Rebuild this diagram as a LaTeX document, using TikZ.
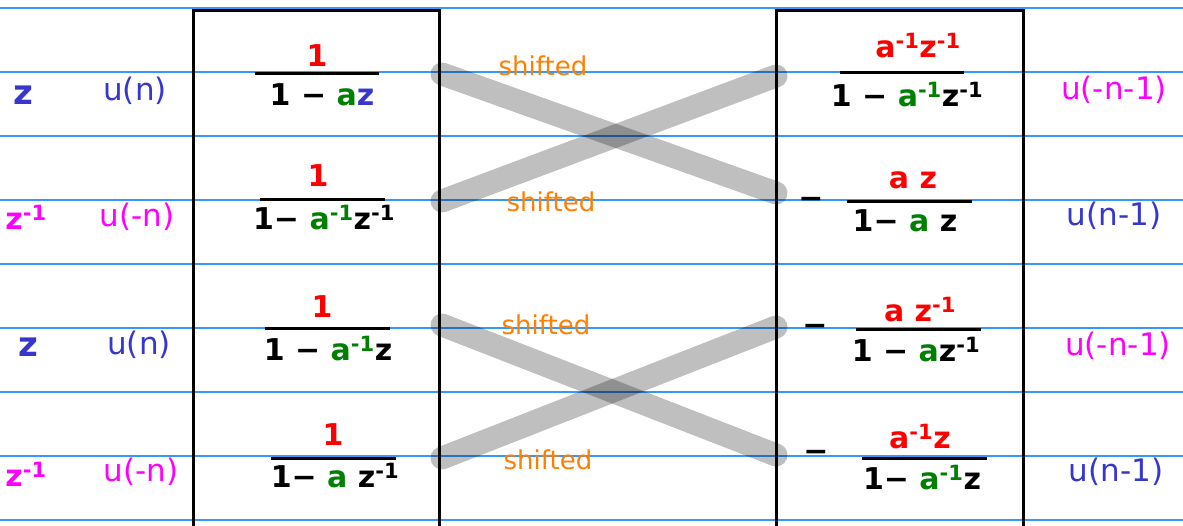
\documentclass[tikz,border=0pt]{standalone}
\usepackage{fontspec}
\setmainfont{DejaVu Sans}
\definecolor{ruled}{RGB}{51,153,255}
\definecolor{ublue}{RGB}{55,55,205}
\definecolor{umag}{RGB}{255,0,255}
\definecolor{shiftor}{RGB}{255,128,0}
\definecolor{hred}{RGB}{255,0,0}
\definecolor{hgreen}{RGB}{0,128,0}
\newcommand\mone{\textsuperscript{-1}}
\newcommand\ga{\textcolor{hgreen}{a}}
\newcommand\gai{\textcolor{hgreen}{a\mone}}
\tikzset{
  rule/.style={draw=ruled, line width=1.5},
  frame/.style={draw=black, line width=3, line join=miter},
  swap/.style={draw=black, opacity=0.25, line width=23, line cap=round},
  lbl/.style={font=\fontsize{31}{31}\selectfont, inner sep=0},
  sh/.style={text=shiftor, font=\fontsize{26}{26}\selectfont, inner sep=0},
  hw/.style={font=\fontsize{30}{30}\selectfont\bfseries, inner sep=0},
  var/.style={font=\fontsize{34}{34}\selectfont\bfseries, inner sep=0},
  bar/.style={draw=black, line width=3},
}
\begin{document}
\begin{tikzpicture}[x=1pt, y=-1pt]
\useasboundingbox (0,0) rectangle (1183,525);
\fill[white] (0,0) rectangle (1183,525);

% ruled paper lines
\foreach \k in {0,...,8}
  \draw[rule] (0,{8+64*\k}) -- (1183,{8+64*\k});

% the two columns
\draw[frame] (193,530) |- (439,10) -- (439,530);
\draw[frame] (776,530) |- (1023,10) -- (1023,530);

% crossings between the columns
\coordinate (a1) at (442,74);  \coordinate (b1) at (776,193);
\coordinate (a2) at (442,201); \coordinate (b2) at (776,76);
\coordinate (a3) at (442,325); \coordinate (b3) at (776,455);
\coordinate (a4) at (442,458); \coordinate (b4) at (776,327);
\draw[swap] (a1) -- (b1);
\draw[swap] (a2) -- (b2);
\draw[swap] (a3) -- (b3);
\draw[swap] (a4) -- (b4);

\node[sh] (s1) at (543,66) {shifted};
\node[sh] (s2) at (551,202) {shifted};
\node[sh] (s3) at (546,325) {shifted};
\node[sh] (s4) at (548,460) {shifted};

% left variables and sequences
\node[var, text=ublue] (v1) at (23,95) {z};
\node[hw, text=umag]  (v2) at (26,217) {z\mone};
\node[var, text=ublue] (v3) at (28,347) {z};
\node[hw, text=umag]  (v4) at (26,474) {z\mone};
\node[lbl, text=ublue] (u1) at (135,91) {u(n)};
\node[lbl, text=umag]  (u2) at (137,217) {u(-n)};
\node[lbl, text=ublue] (u3) at (139,345) {u(n)};
\node[lbl, text=umag]  (u4) at (141,472) {u(-n)};

% right sequences
\node[lbl, text=umag]  (w1) at (1114,90)  {u(-n-1)};
\node[lbl, text=ublue] (w2) at (1114,216) {u(n-1)};
\node[lbl, text=umag]  (w3) at (1118,346) {u(-n-1)};
\node[lbl, text=ublue] (w4) at (1116,472) {u(n-1)};

% left fractions
\node[hw, text=hred] (ln1) at (317,56) {1};
\draw[bar] (255,73) -- (379,73);
\node[hw] (ld1) at (322,95) {1 − \ga\textcolor{ublue}{z}};

\node[hw, text=hred] (ln2) at (318,176) {1};
\draw[bar] (260,199) -- (385,199);
\node[hw] (ld2) at (324,218) {1− \gai z\mone};

\node[hw, text=hred] (ln3) at (322,307) {1};
\draw[bar] (265,328) -- (390,328);
\node[hw] (ld3) at (328,349) {1 − \gai z};

\node[hw, text=hred] (ln4) at (333,435) {1};
\draw[bar] (271,458) -- (396,458);
\node[hw] (ld4) at (335,476) {1− \ga\ z\mone};

% right fractions
\node[hw, text=hred] (rn1) at (918,46) {a\mone z\mone};
\draw[bar] (840,72) -- (964,72);
\node[hw] (rd1) at (907,95) {1 − \gai z\mone};

\node[hw] (rm2) at (811,203) {−};
\node[hw, text=hred] (rn2) at (913,180) {a z};
\draw[bar] (847,201) -- (972,201);
\node[hw] (rd2) at (905,221) {1− \ga\ z};

\node[hw] (rm3) at (815,330) {−};
\node[hw, text=hred] (rn3) at (920,310) {a z\mone};
\draw[bar] (856,329) -- (981,329);
\node[hw] (rd3) at (916,350) {1 − \ga z\mone};

\node[hw] (rm4) at (816,456) {−};
\node[hw, text=hred] (rn4) at (920,437) {a\mone z};
\draw[bar] (862,458) -- (987,458);
\node[hw] (rd4) at (922,478) {1− \gai z};
\end{tikzpicture}
\end{document}
